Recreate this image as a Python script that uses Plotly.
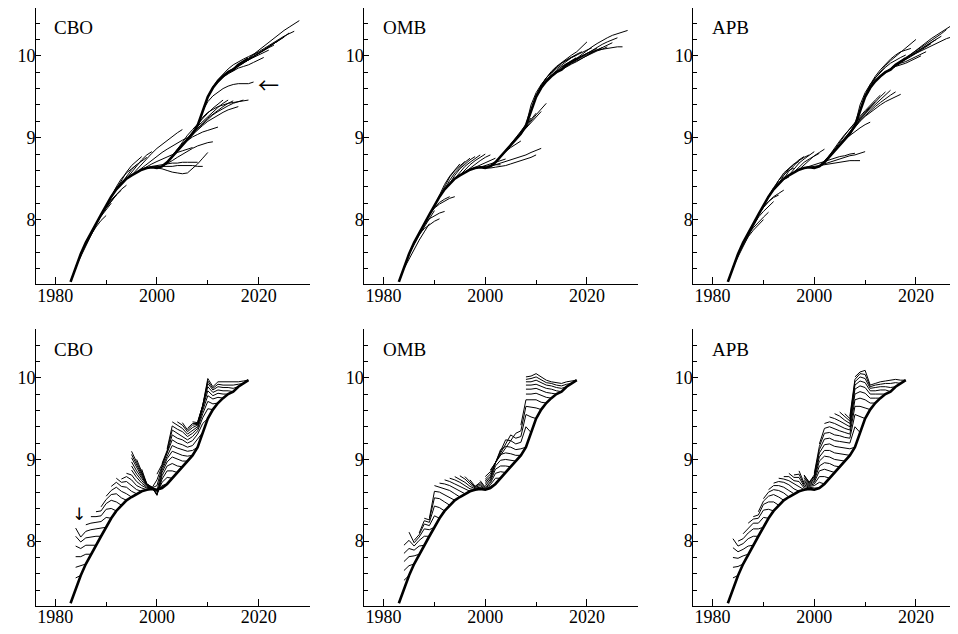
import plotly.graph_objects as go

# actual series (log level), one value per year
actual_years = list(range(1983, 2019))
actual_debt = [7.24, 7.42, 7.58, 7.72, 7.84, 7.95, 8.06, 8.17, 8.28, 8.37,
               8.44, 8.50, 8.54, 8.58, 8.61, 8.63, 8.64, 8.63, 8.65, 8.70,
               8.77, 8.84, 8.91, 8.98, 9.05, 9.15, 9.33, 9.50, 9.61, 9.69,
               9.75, 9.80, 9.83, 9.89, 9.93, 9.97]

# forecast vintages: vintage year -> values for vintage year, +1, +2, ...
cbo_forecasts = {
    1984: [7.42, 7.55, 7.68, 7.81, 7.94, 8.06, 8.16],
    1985: [7.58, 7.70, 7.81, 7.91, 7.99, 8.05],
    1986: [7.72, 7.84, 7.95, 8.04, 8.12, 8.20],
    1987: [7.84, 7.95, 8.05, 8.14, 8.22, 8.30],
    1988: [7.95, 8.06, 8.15, 8.23, 8.30, 8.36],
    1989: [8.06, 8.16, 8.24, 8.31, 8.37, 8.42],
    1990: [8.17, 8.29, 8.39, 8.46, 8.51, 8.55],
    1991: [8.28, 8.40, 8.50, 8.57, 8.62, 8.67],
    1992: [8.37, 8.48, 8.58, 8.66, 8.72, 8.77],
    1993: [8.44, 8.53, 8.61, 8.67, 8.72, 8.76],
    1994: [8.50, 8.58, 8.66, 8.73, 8.79, 8.83],
    1995: [8.54, 8.61, 8.68, 8.75, 8.81, 8.87, 8.92, 8.97, 9.02, 9.06, 9.10],
    1996: [8.58, 8.63, 8.68, 8.73, 8.78, 8.82, 8.86, 8.90, 8.94, 8.97, 9.00],
    1997: [8.61, 8.65, 8.68, 8.71, 8.74, 8.77, 8.79, 8.82, 8.84, 8.86, 8.88],
    1998: [8.63, 8.65, 8.66, 8.67, 8.68, 8.69, 8.69, 8.70, 8.70, 8.70, 8.70],
    1999: [8.64, 8.65, 8.65, 8.65, 8.65, 8.66, 8.66, 8.66, 8.66, 8.65, 8.65],
    2000: [8.63, 8.62, 8.60, 8.58, 8.57, 8.56, 8.57, 8.62, 8.68, 8.75, 8.82],
    2001: [8.65, 8.68, 8.72, 8.76, 8.80, 8.84, 8.87, 8.90, 8.92, 8.94, 8.95],
    2002: [8.70, 8.78, 8.86, 8.92, 8.97, 9.01, 9.04, 9.07, 9.09, 9.11, 9.13],
    2003: [8.77, 8.86, 8.95, 9.03, 9.10, 9.17, 9.24, 9.30, 9.36, 9.41, 9.46],
    2004: [8.84, 8.92, 9.00, 9.07, 9.14, 9.20, 9.26, 9.32, 9.37, 9.42, 9.46],
    2005: [8.91, 8.98, 9.05, 9.12, 9.18, 9.24, 9.29, 9.34, 9.38, 9.42, 9.45],
    2006: [8.98, 9.04, 9.10, 9.15, 9.20, 9.24, 9.28, 9.31, 9.34, 9.36, 9.38],
    2007: [9.05, 9.11, 9.17, 9.23, 9.28, 9.32, 9.36, 9.39, 9.42, 9.44, 9.46],
    2008: [9.15, 9.25, 9.31, 9.35, 9.38, 9.40, 9.42, 9.43, 9.44, 9.45, 9.46],
    2009: [9.33, 9.44, 9.51, 9.56, 9.60, 9.63, 9.65, 9.66, 9.66, 9.66, 9.68],
    2010: [9.50, 9.62, 9.71, 9.78, 9.84, 9.89, 9.93, 9.96, 9.99, 10.02, 10.05],
    2011: [9.61, 9.68, 9.74, 9.78, 9.82, 9.85, 9.87, 9.89, 9.92, 9.95, 9.98],
    2012: [9.69, 9.76, 9.81, 9.85, 9.89, 9.92, 9.95, 9.98, 10.01, 10.04, 10.07],
    2013: [9.75, 9.80, 9.84, 9.88, 9.91, 9.95, 9.99, 10.03, 10.07, 10.10, 10.13],
    2014: [9.80, 9.84, 9.88, 9.91, 9.95, 9.99, 10.03, 10.07, 10.11, 10.15, 10.19],
    2015: [9.83, 9.87, 9.91, 9.95, 9.99, 10.03, 10.07, 10.11, 10.15, 10.19, 10.23],
    2016: [9.89, 9.92, 9.95, 9.99, 10.03, 10.07, 10.11, 10.15, 10.19, 10.23, 10.28],
    2017: [9.93, 9.96, 10.01, 10.05, 10.09, 10.13, 10.17, 10.21, 10.24, 10.27, 10.30],
    2018: [9.97, 10.02, 10.07, 10.12, 10.17, 10.22, 10.27, 10.31, 10.35, 10.39, 10.43],
}

omb_forecasts = {
    1984: [7.40, 7.52, 7.64, 7.75, 7.85, 7.95],
    1985: [7.58, 7.70, 7.81, 7.91, 8.01, 8.11],
    1986: [7.72, 7.82, 7.89, 7.94, 7.98, 8.01],
    1987: [7.84, 7.94, 8.01, 8.05, 8.08, 8.10],
    1988: [7.95, 8.06, 8.15, 8.21, 8.25, 8.28],
    1989: [8.06, 8.14, 8.19, 8.23, 8.26, 8.28],
    1990: [8.17, 8.31, 8.43, 8.53, 8.61, 8.68],
    1991: [8.28, 8.41, 8.52, 8.60, 8.66, 8.71],
    1992: [8.37, 8.48, 8.57, 8.64, 8.70, 8.75],
    1993: [8.44, 8.54, 8.62, 8.68, 8.73, 8.77],
    1994: [8.50, 8.58, 8.65, 8.70, 8.75, 8.79],
    1995: [8.54, 8.61, 8.67, 8.72, 8.76, 8.80],
    1996: [8.58, 8.63, 8.68, 8.72, 8.76, 8.79],
    1997: [8.61, 8.64, 8.67, 8.70, 8.73, 8.75],
    1998: [8.63, 8.64, 8.65, 8.66, 8.67, 8.67],
    1999: [8.64, 8.66, 8.68, 8.70, 8.72, 8.74],
    2000: [8.63, 8.63, 8.64, 8.65, 8.66, 8.68, 8.70, 8.72, 8.74, 8.76, 8.79],
    2001: [8.65, 8.67, 8.69, 8.71, 8.73, 8.75, 8.77, 8.79, 8.82, 8.85, 8.87],
    2002: [8.70, 8.77, 8.83, 8.88, 8.92, 8.96],
    2003: [8.77, 8.85, 8.92, 8.99, 9.06, 9.12],
    2004: [8.84, 8.92, 9.00, 9.08, 9.16, 9.24],
    2005: [8.91, 8.99, 9.07, 9.15, 9.23, 9.30],
    2006: [8.98, 9.05, 9.12, 9.19, 9.26, 9.32],
    2007: [9.05, 9.13, 9.21, 9.28, 9.35, 9.42],
    2008: [9.15, 9.40, 9.55, 9.65, 9.73, 9.80, 9.86, 9.91, 9.95, 9.98, 10.01],
    2009: [9.33, 9.52, 9.64, 9.73, 9.80, 9.86, 9.91, 9.95, 9.99, 10.02, 10.05],
    2010: [9.50, 9.63, 9.73, 9.81, 9.87, 9.92, 9.97, 10.01, 10.05, 10.11, 10.17],
    2011: [9.61, 9.70, 9.78, 9.84, 9.89, 9.94, 9.98, 10.01, 10.04, 10.07, 10.10],
    2012: [9.69, 9.76, 9.82, 9.87, 9.91, 9.94, 9.97, 10.00, 10.03, 10.06, 10.09],
    2013: [9.75, 9.81, 9.86, 9.90, 9.93, 9.95, 9.98, 10.01, 10.04, 10.07, 10.10],
    2014: [9.80, 9.84, 9.88, 9.91, 9.94, 9.97, 10.00, 10.03, 10.06, 10.08, 10.11],
    2015: [9.83, 9.87, 9.90, 9.93, 9.97, 10.00, 10.04, 10.07, 10.10, 10.13, 10.16],
    2016: [9.89, 9.92, 9.95, 9.99, 10.03, 10.07, 10.10, 10.14, 10.17, 10.20, 10.22],
    2017: [9.93, 9.96, 10.00, 10.03, 10.05, 10.07, 10.08, 10.09, 10.10, 10.11, 10.11],
    2018: [9.97, 10.02, 10.07, 10.11, 10.15, 10.19, 10.22, 10.25, 10.27, 10.29, 10.31],
}

apb_forecasts = {
    1984: [7.42, 7.55, 7.68, 7.80, 7.92, 8.03],
    1985: [7.58, 7.69, 7.79, 7.87, 7.94, 8.00],
    1986: [7.72, 7.82, 7.90, 7.97, 8.03, 8.09],
    1987: [7.84, 7.94, 8.03, 8.10, 8.16, 8.22],
    1988: [7.95, 8.06, 8.15, 8.22, 8.27, 8.30],
    1989: [8.06, 8.15, 8.22, 8.28, 8.32, 8.36],
    1990: [8.17, 8.29, 8.38, 8.45, 8.49, 8.52],
    1991: [8.28, 8.39, 8.48, 8.55, 8.60, 8.63],
    1992: [8.37, 8.48, 8.57, 8.63, 8.68, 8.71],
    1993: [8.44, 8.54, 8.62, 8.68, 8.73, 8.77],
    1994: [8.50, 8.59, 8.66, 8.72, 8.76, 8.79],
    1995: [8.54, 8.62, 8.69, 8.74, 8.79, 8.83],
    1996: [8.58, 8.64, 8.70, 8.74, 8.78, 8.81],
    1997: [8.61, 8.67, 8.73, 8.78, 8.82, 8.86],
    1998: [8.63, 8.65, 8.67, 8.69, 8.71, 8.73, 8.75, 8.77, 8.78, 8.80, 8.81],
    1999: [8.64, 8.65, 8.66, 8.67, 8.68, 8.69, 8.70, 8.71, 8.72, 8.72, 8.72],
    2000: [8.63, 8.65, 8.68, 8.70, 8.72, 8.74, 8.76, 8.78, 8.79, 8.81, 8.83],
    2001: [8.65, 8.72, 8.79, 8.86, 8.92, 8.98, 9.03, 9.08, 9.12, 9.16, 9.19],
    2002: [8.70, 8.79, 8.88, 8.96, 9.04, 9.11, 9.18, 9.25, 9.32, 9.38, 9.44],
    2003: [8.77, 8.86, 8.95, 9.03, 9.11, 9.19, 9.26, 9.33, 9.40, 9.46, 9.52],
    2004: [8.84, 8.92, 9.00, 9.08, 9.16, 9.23, 9.30, 9.37, 9.44, 9.50, 9.56],
    2005: [8.91, 8.99, 9.07, 9.15, 9.22, 9.29, 9.35, 9.41, 9.47, 9.53, 9.58],
    2006: [8.98, 9.06, 9.14, 9.21, 9.27, 9.33, 9.38, 9.43, 9.48, 9.52, 9.56],
    2007: [9.05, 9.13, 9.20, 9.26, 9.31, 9.36, 9.40, 9.44, 9.47, 9.50, 9.53],
    2008: [9.15, 9.40, 9.55, 9.65, 9.73, 9.80, 9.86, 9.91, 9.95, 9.98, 10.01],
    2009: [9.33, 9.52, 9.65, 9.75, 9.83, 9.90, 9.96, 10.01, 10.05, 10.07, 10.09],
    2010: [9.50, 9.63, 9.73, 9.81, 9.88, 9.94, 9.99, 10.04, 10.09, 10.14, 10.20],
    2011: [9.61, 9.69, 9.75, 9.80, 9.84, 9.87, 9.89, 9.91, 9.94, 9.97, 10.00],
    2012: [9.69, 9.75, 9.80, 9.84, 9.88, 9.91, 9.93, 9.96, 9.99, 10.02, 10.05],
    2013: [9.75, 9.80, 9.85, 9.89, 9.92, 9.95, 9.99, 10.03, 10.07, 10.11, 10.15],
    2014: [9.80, 9.85, 9.89, 9.93, 9.96, 10.00, 10.04, 10.08, 10.12, 10.16, 10.20],
    2015: [9.83, 9.88, 9.93, 9.97, 10.01, 10.05, 10.09, 10.13, 10.17, 10.21, 10.24],
    2016: [9.89, 9.94, 9.98, 10.02, 10.06, 10.10, 10.14, 10.18, 10.22, 10.27, 10.32],
    2017: [9.93, 9.97, 10.00, 10.03, 10.06, 10.09, 10.12, 10.15, 10.18, 10.21, 10.23],
    2018: [9.97, 10.02, 10.07, 10.12, 10.17, 10.21, 10.25, 10.29, 10.33, 10.37, 10.41],
}

agencies = ["CBO", "OMB", "APB"]
forecast_sets = [cbo_forecasts, omb_forecasts, apb_forecasts]
last_actual_year = 2018

FONT = "Liberation Serif, Times New Roman, DejaVu Serif, serif"
ARROW_FONT = "Noto Sans CJK JP, DejaVu Sans"


def vintage_paths(forecasts):
    # one line per vintage, plotted against the year being forecast
    xs, ys = [], []
    for vintage, vals in forecasts.items():
        xs += [vintage + h for h in range(len(vals))] + [None]
        ys += list(vals) + [None]
    return xs, ys


def target_paths(forecasts):
    # one line per target year, plotted against the vintage that made it
    by_target = {}
    for vintage, vals in forecasts.items():
        for h, val in enumerate(vals):
            target = vintage + h
            if target <= last_actual_year:
                by_target.setdefault(target, []).append((vintage, val))
    xs, ys = [], []
    for target in sorted(by_target):
        pts = sorted(by_target[target])
        xs += [p[0] for p in pts] + [None]
        ys += [p[1] for p in pts] + [None]
    return xs, ys


fig = go.Figure()

# the page puts the plot 8px in from the corner, so size it to fit the window
W, H = 950, 626
col_px = [(28, 301.5), (356.3, 630), (685.3, 950)]
row_px = [(0, 276.3), (320.7, 597.7)]
row_ranges = [[7.21, 10.584], [7.21, 10.6]]
px_per_year = 5.083
x_start = 1976.2

for row in range(2):
    for col in range(3):
        idx = row * 3 + col + 1
        xname = "x" if idx == 1 else f"x{idx}"
        yname = "y" if idx == 1 else f"y{idx}"
        fc = forecast_sets[col]
        if row == 0:
            xs, ys = vintage_paths(fc)
        else:
            xs, ys = target_paths(fc)

        fig.add_trace(go.Scatter(
            x=xs, y=ys, mode="lines", xaxis=xname, yaxis=yname,
            line=dict(color="black", width=1), hoverinfo="skip"
        ))
        fig.add_trace(go.Scatter(
            x=actual_years, y=actual_debt, mode="lines", xaxis=xname, yaxis=yname,
            line=dict(color="black", width=2.6), hoverinfo="skip"
        ))

        left, right = col_px[col]
        top, bottom = row_px[row]
        x_end = x_start + (right - left) / px_per_year

        xaxis = dict(
            domain=[left / W, right / W], range=[x_start, x_end],
            anchor=yname, showline=True, linecolor="black", linewidth=1,
            ticks="inside", ticklen=7, tickwidth=1, tickcolor="black",
            tickmode="linear", tick0=1980, dtick=20, ticklabelstandoff=-5,
            minor=dict(ticks="inside", ticklen=4, tickwidth=1, tickcolor="black",
                       tick0=1980, dtick=10, showgrid=False),
            showgrid=False, zeroline=False,
            tickfont=dict(family=FONT, size=18, color="black"),
        )
        yaxis = dict(
            domain=[1 - bottom / H, 1 - top / H], range=row_ranges[row],
            anchor=xname, showline=True, linecolor="black", linewidth=1,
            ticks="inside", ticklen=5, tickwidth=1, tickcolor="black",
            tickmode="linear", tick0=8, dtick=1, ticklabelstandoff=-4,
            minor=dict(ticks="inside", ticklen=4, tickwidth=1, tickcolor="black",
                       tick0=8, dtick=0.2, showgrid=False),
            showgrid=False, zeroline=False,
            tickfont=dict(family=FONT, size=18, color="black"),
        )
        fig.update_layout({
            ("xaxis" if idx == 1 else f"xaxis{idx}"): xaxis,
            ("yaxis" if idx == 1 else f"yaxis{idx}"): yaxis,
        })

        fig.add_annotation(
            x=1979.4, y=10.35, xref=xname, yref=yname, text=agencies[col],
            showarrow=False, xanchor="left", yanchor="middle",
            font=dict(family=FONT, size=19, color="black"),
        )

# the two pointer arrows in the CBO panels
fig.add_annotation(x=2021.9, y=9.66, xref="x", yref="y", text="←",
                   showarrow=False, font=dict(family=ARROW_FONT, size=21, color="black"))
fig.add_annotation(x=1984.7, y=8.33, xref="x4", yref="y4", text="↓",
                   showarrow=False, font=dict(family="DejaVu Sans", size=17, color="black"))

fig.update_layout(
    width=W, height=H,
    margin=dict(l=0, r=0, t=0, b=0),
    plot_bgcolor="white", paper_bgcolor="white",
    showlegend=False,
    font=dict(family=FONT, color="black"),
)

fig.write_html("out.html")
